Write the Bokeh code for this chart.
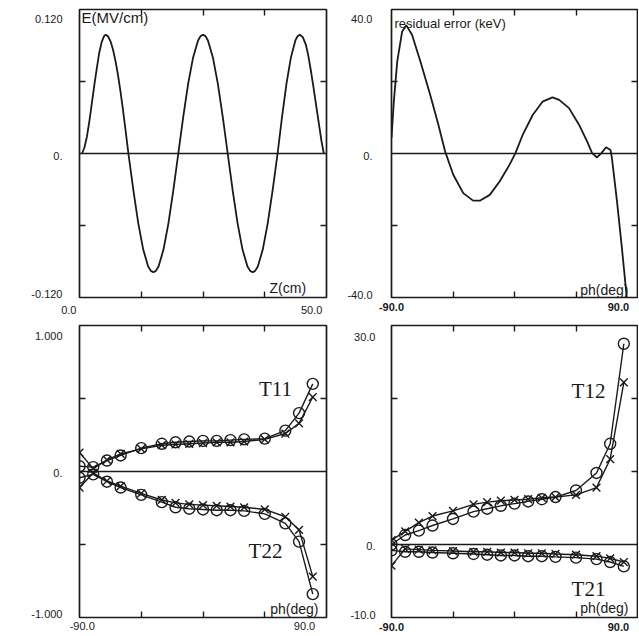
from bokeh.plotting import figure
from bokeh.models import Range1d, LinearAxis, FixedTicker, Span, Label
from bokeh.layouts import row, column
from bokeh.embed import file_html
from bokeh.resources import INLINE

# ---------------- data ----------------
# panel 1: axial field E(z)
z_cm = [0.5, 1.0, 1.5, 2.0, 2.5, 3.0, 3.5, 4.0, 4.5, 5.0, 5.3, 5.8, 6.3, 6.8, 7.3, 7.8, 8.3, 8.8, 9.3, 9.9,
        10.9, 11.9, 12.9, 13.9, 14.45, 14.95, 15.45, 16.0, 17.0, 18.0, 19.0, 20.0,
        21.0, 22.0, 23.0, 24.0, 24.5, 25.0, 25.5, 26.0, 27.0, 28.0, 29.0, 30.0,
        31.0, 32.0, 33.0, 34.0, 34.55, 35.05, 35.55, 36.1, 37.1, 38.1, 39.1, 40.1,
        41.0, 41.9, 42.8, 43.7, 44.15, 44.6, 45.2, 45.8, 46.3, 46.8, 47.3, 47.8, 48.2, 48.6, 49.0, 49.45]
e_field = [0.0, 0.005, 0.014, 0.027, 0.042, 0.057, 0.071, 0.084, 0.093, 0.098, 0.099, 0.0975, 0.0933, 0.0863, 0.0768, 0.0652, 0.0515, 0.0363, 0.0201, 0.0,
           -0.0306, -0.0582, -0.0801, -0.0942, -0.0978, -0.099, -0.0978, -0.0942, -0.0801, -0.0582, -0.0306, 0.0,
           0.0306, 0.0582, 0.0801, 0.0942, 0.0978, 0.099, 0.0978, 0.0942, 0.0801, 0.0582, 0.0306, 0.0,
           -0.0306, -0.0582, -0.0801, -0.0942, -0.0978, -0.099, -0.0978, -0.0942, -0.0801, -0.0582, -0.0306, 0.0,
           0.0306, 0.0582, 0.0801, 0.0942, 0.0978, 0.099, 0.097, 0.091, 0.082, 0.070, 0.057, 0.043, 0.032, 0.021, 0.010, 0.0]

# panel 2: residual error (keV) vs phase
phi_res = [-90, -88.3, -85.8, -82.2, -79.1, -75, -68.9, -61.7, -55.7, -50.8, -44.8, -37.5, -30.3, -25.4,
           -18.1, -10.9, -3.6, 0.7, 6.0, 13.3, 20.5, 27.8, 32.7, 39.9, 47.2, 53.2, 56.8, 60.4, 63.6,
           67.0, 70.2, 71.3, 75.0, 78.6, 82.2, 83.0]
err_res = [4.3, 14.4, 25.6, 33.9, 35.6, 33.0, 25.6, 16.3, 8.0, 0.6, -5.9, -11.0, -13.1, -13.1,
           -11.5, -7.8, -3.1, 0.1, 5.2, 10.7, 14.4, 15.6, 14.9, 12.6, 8.0, 3.3, 0.1, -1.1, 0.1,
           1.75, 1.0, -1.3, -13.3, -26.3, -40.2, -44.0]

# panels 3 & 4: transfer matrix elements vs phase
phi = [-90, -80, -70, -60, -45, -30, -20, -10, 0, 10, 20, 30, 45, 60, 70, 80]
t11_o = [0.036, 0.03, 0.075, 0.11, 0.16, 0.19, 0.20, 0.205, 0.21, 0.21, 0.215, 0.22, 0.225, 0.28, 0.40, 0.60]
t11_x = [0.13, 0.02, 0.08, 0.12, 0.155, 0.18, 0.185, 0.19, 0.195, 0.20, 0.20, 0.205, 0.22, 0.26, 0.33, 0.51]
t22_o = [-0.043, -0.02, -0.07, -0.11, -0.16, -0.21, -0.245, -0.255, -0.26, -0.265, -0.265, -0.27, -0.29, -0.355, -0.48, -0.84]
t22_x = [-0.11, -0.01, -0.065, -0.10, -0.15, -0.195, -0.215, -0.225, -0.23, -0.235, -0.24, -0.245, -0.26, -0.31, -0.40, -0.72]
t12_o = [0.0, 1.3, 1.9, 2.6, 3.5, 4.5, 4.9, 5.3, 5.6, 5.9, 6.2, 6.5, 7.4, 9.8, 13.8, 27.5]
t12_x = [0.6, 1.8, 3.0, 3.9, 4.6, 5.5, 5.8, 6.0, 6.1, 6.2, 6.4, 6.5, 6.8, 7.8, 11.7, 22.2]
t21_o = [-0.8, -1.0, -1.0, -1.1, -1.2, -1.3, -1.4, -1.5, -1.5, -1.6, -1.6, -1.7, -1.8, -2.0, -2.4, -3.0]
t21_x = [-2.9, -0.6, -0.7, -0.8, -0.9, -1.0, -1.0, -1.1, -1.1, -1.2, -1.2, -1.3, -1.4, -1.6, -1.9, -2.4]

# tick label texts (label anchor value, text)
NB = "\u00a0"
p1_ylabels = [(0.1125, "0.120"), (-0.002, "0."), (-0.1167, "-0.120")]
p1_xlabels = [(0.0, "0.0" + NB * 7), (47.0, "50.0")]
p2_ylabels = [(37.5, "40.0"), (-0.6, "0."), (-39.2, "-40.0")]
p2_xlabels = [(-90.0, "-90.0"), (76.0, "90.0")]
p3_ylabels = [(0.925, "1.000"), (-0.007, "0."), (-0.979, "-1.000")]
p3_xlabels = [(-88.0, "-90.0"), (74.0, "90.0")]
p4_ylabels = [(28.4, "30.0"), (-0.27, "0."), (-9.6, "-10.0")]
p4_xlabels = [(-90.0, "-90.0"), (76.0, "90.0")]

# ---------------- styling ----------------
INK = "#1a1a1a"
SANS = "Liberation Sans"
SERIF = "Liberation Serif"


def style_axis(ax, labels, minor, standoff, style="normal"):
    major = [v for v, _ in labels]
    ax.ticker = FixedTicker(ticks=major, minor_ticks=minor)
    ax.major_label_overrides = {v: t for v, t in labels}
    ax.major_tick_in = 0
    ax.major_tick_out = 0
    ax.major_tick_line_color = None
    ax.minor_tick_in = 6
    ax.minor_tick_out = 0
    ax.minor_tick_line_color = INK
    ax.minor_tick_line_width = 1.4
    ax.major_label_text_font = SANS
    ax.major_label_text_font_size = "11px"
    ax.major_label_text_color = INK
    ax.major_label_text_font_style = style
    ax.major_label_standoff = standoff
    ax.axis_line_color = None


def make_panel(width, height, mb, xr, yr, xminor, yminor, xlabels, ylabels,
               xstand, ystand, page_frame, xstyle="normal"):
    l, r, t, b = mb
    p = figure(width=width, height=height, x_range=Range1d(*xr), y_range=Range1d(*yr),
               output_backend="svg", toolbar_location=None,
               min_border_left=l, min_border_right=r, min_border_top=t, min_border_bottom=b)
    p.grid.visible = False
    p.outline_line_color = INK
    p.outline_line_width = 1.7
    p.background_fill_color = "white"
    p.border_fill_color = "white"
    style_axis(p.below[0], xlabels, xminor, xstand, xstyle)
    style_axis(p.left[0], ylabels, yminor, ystand)
    top = LinearAxis()
    right = LinearAxis()
    style_axis(top, [], xminor, 0)
    style_axis(right, [], yminor, 0)
    p.add_layout(top, "above")
    p.add_layout(right, "right")
    p.add_layout(Span(location=0, dimension="width", line_color=INK, line_width=1.7))
    p._frame = page_frame
    p._xr = xr
    p._yr = yr
    return p


def lab(p, X, Y, text, size=13, align="left", font=SANS):
    fl, fr, ft, fb = p._frame
    x0, x1 = p._xr
    y0, y1 = p._yr
    xd = x0 + (X - fl) / (fr - fl) * (x1 - x0)
    yd = y1 - (Y - ft) / (fb - ft) * (y1 - y0)
    p.add_layout(Label(x=xd, y=yd, text=text, text_font=font, text_font_size=f"{size}px",
                       text_align=align, text_baseline="middle", text_color=INK))


# ---------------- panel 1 ----------------
p1 = make_panel(335, 318, (79, 9, 9, 21), (0, 50), (-0.12, 0.12), [12.5, 25, 37.5], [-0.06, 0.06],
                p1_xlabels, p1_ylabels, 6, 17, (79, 326, 9, 297))
p1.line(z_cm, e_field, line_color=INK, line_width=1.8)
lab(p1, 81, 17, "E(MV/cm)", 15)
lab(p1, 269, 287, "Z(cm)", 14)

# ---------------- panel 2 ----------------
p2 = make_panel(303, 318, (56, 1, 9, 21), (-90, 90), (-40, 40), [-45, 0, 45], [-20, 20],
                p2_xlabels, p2_ylabels, 5, 19, (391, 637, 9, 297), xstyle="bold")
p2.line(phi_res, err_res, line_color=INK, line_width=1.8)
lab(p2, 394, 23, "residual error (keV)", 13)
lab(p2, 628, 289, "ph(deg)", 14, align="right")

# ---------------- panel 3 ----------------
p3 = make_panel(335, 317, (79, 9, 7, 18), (-90, 90), (-1, 1), [-45, 0, 45], [-0.5, 0.5],
                p3_xlabels, p3_ylabels, 4, 17, (79, 326, 325, 617))
for ys in (t11_o, t11_x, t22_o, t22_x):
    p3.line(phi, ys, line_color=INK, line_width=1.4)
for ys in (t11_o, t22_o):
    p3.scatter(phi, ys, marker="circle", size=11, fill_color=None, line_color=INK, line_width=1.4)
for ys in (t11_x, t22_x):
    p3.scatter(phi, ys, marker="x", size=11, line_color=INK, line_width=1.4)
lab(p3, 275, 388, "T11", 21, align="center", font=SERIF)
lab(p3, 265, 550, "T22", 21, align="center", font=SERIF)
lab(p3, 318, 608, "ph(deg)", 14, align="right")

# ---------------- panel 4 ----------------
p4 = make_panel(303, 317, (56, 1, 7, 18), (-90, 90), (-10, 30), [-45, 0, 45], [10, 20],
                p4_xlabels, p4_ylabels, 5, 16, (391, 637, 325, 617), xstyle="bold")
for ys in (t12_o, t12_x, t21_o, t21_x):
    p4.line(phi, ys, line_color=INK, line_width=1.4)
for ys in (t12_o, t21_o):
    p4.scatter(phi, ys, marker="circle", size=11, fill_color=None, line_color=INK, line_width=1.4)
for ys in (t12_x, t21_x):
    p4.scatter(phi, ys, marker="x", size=11, line_color=INK, line_width=1.4)
lab(p4, 588, 390, "T12", 21, align="center", font=SERIF)
lab(p4, 588, 588, "T21", 21, align="center", font=SERIF)
lab(p4, 628, 607, "ph(deg)", 14, align="right")

layout = column(row(p1, p2), row(p3, p4))
open("out.html", "w").write(file_html(layout, INLINE))
